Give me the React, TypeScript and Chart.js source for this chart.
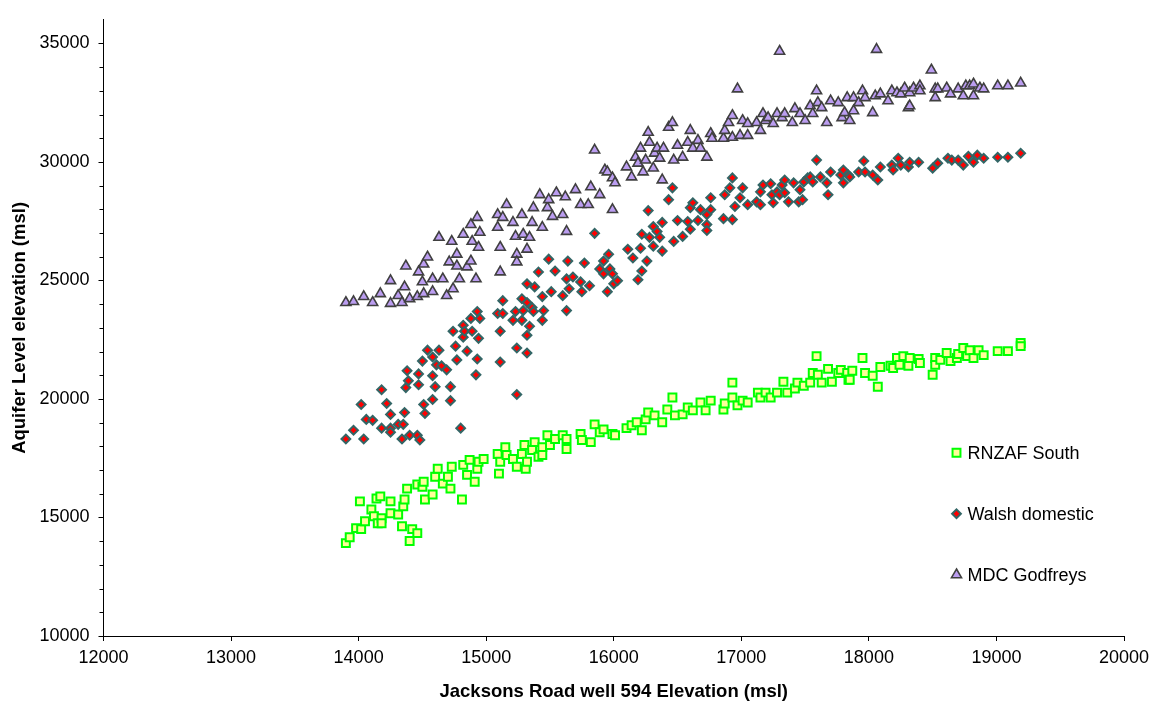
import React, { useEffect, useRef } from 'react';
import { Chart, registerables } from 'chart.js';

Chart.register(...registerables);

// ---------- axis configuration ----------
const X_MIN = 12000;
const X_MAX = 20000;
const Y_MIN = 10000;
const Y_MAX = 36000;
const Y_MINOR = 1000;
const xTickValues = [12000, 13000, 14000, 15000, 16000, 17000, 18000, 19000, 20000];
const yTickValues = [10000, 15000, 20000, 25000, 30000, 35000];

const X_TITLE = 'Jacksons Road well 594 Elevation (msl)';
const Y_TITLE = 'Aquifer Level elevation (msl)';

const seriesNames = ['RNZAF South', 'Walsh domestic', 'MDC Godfreys'];

// ---------- data: [Jacksons Road well 594 elevation, aquifer level elevation] ----------
const rnzafSouth: [number, number][] = [
  [13900, 13920], [13930, 14170], [13980, 14550], [14010, 15680], [14020, 14510], [14050, 14840],
  [14100, 15340], [14120, 15050], [14140, 15800], [14150, 14760], [14170, 15890], [14180, 14970],
  [14180, 14760], [14250, 15680], [14250, 15180], [14310, 15130], [14350, 15470], [14360, 15760],
  [14340, 14630], [14420, 14510], [14460, 14340], [14400, 14010], [14380, 16220], [14460, 16390],
  [14500, 16300], [14520, 15760], [14510, 16510], [14580, 15970], [14600, 16720], [14620, 17060],
  [14660, 16430], [14700, 16720], [14720, 16220], [14730, 17140], [14810, 15760], [14820, 17220],
  [14850, 16800], [14870, 17430], [14910, 16510], [14930, 17060], [14940, 17350], [14980, 17470],
  [15090, 17680], [15100, 16850], [15110, 17350], [15150, 17970], [15160, 17640], [15210, 17470],
  [15240, 17140], [15280, 17680], [15310, 17060], [15320, 17350], [15300, 18060], [15360, 17850],
  [15380, 18180], [15410, 17560], [15440, 17640], [15440, 17970], [15480, 18470], [15500, 18060],
  [15540, 18310], [15600, 18470], [15630, 17890], [15630, 18310], [15740, 18520], [15750, 18270],
  [15820, 18180], [15850, 18930], [15890, 18600], [15920, 18720], [15990, 18520], [16010, 18470],
  [16100, 18770], [16140, 18890], [16180, 19020], [16220, 18680], [16250, 19140], [16270, 19430],
  [16320, 19310], [16380, 19020], [16420, 19560], [16460, 20060], [16480, 19310], [16540, 19350],
  [16580, 19640], [16620, 19520], [16680, 19850], [16720, 19520], [16760, 19930], [16860, 19560],
  [16870, 19810], [16930, 20690], [16930, 20060], [16970, 19730], [17010, 19930], [17050, 19850],
  [17130, 20270], [17150, 20060], [17190, 20270], [17230, 20060], [17280, 20270], [17330, 20730],
  [17360, 20270], [17420, 20440], [17440, 20690], [17490, 20560], [17540, 20690], [17560, 21100],
  [17590, 21810], [17600, 21020], [17630, 20690], [17680, 21270], [17710, 20730], [17760, 21100],
  [17780, 21230], [17830, 21100], [17840, 20810], [17850, 20810], [17870, 21190], [17950, 21730],
  [17970, 21100], [18030, 20980], [18070, 20520], [18090, 21350], [18170, 21400], [18190, 21310],
  [18220, 21730], [18240, 21440], [18270, 21810], [18310, 21400], [18320, 21730], [18390, 21690],
  [18400, 21520], [18500, 21020], [18520, 21730], [18520, 21440], [18560, 21650], [18610, 21940],
  [18640, 21600], [18690, 21730], [18700, 21900], [18740, 22150], [18770, 21810], [18790, 22060],
  [18820, 21730], [18860, 22060], [18900, 21850], [19010, 22020], [19090, 22020], [19190, 22360],
  [19190, 22230],
];

const walshDomestic: [number, number][] = [
  [13900, 18310], [13960, 18680], [14020, 19770], [14040, 18310], [14060, 19140], [14110, 19100],
  [14180, 20390], [14180, 18770], [14220, 19810], [14250, 19350], [14250, 18770], [14250, 18600],
  [14310, 18930], [14340, 18310], [14350, 18930], [14360, 19430], [14370, 20480], [14380, 21190],
  [14390, 20770], [14400, 18470], [14460, 18470], [14470, 20600], [14470, 21060], [14480, 18270],
  [14500, 21600], [14510, 19770], [14520, 19390], [14540, 22060], [14580, 19980], [14580, 20980],
  [14580, 21770], [14600, 20520], [14610, 21440], [14630, 22060], [14650, 21400], [14690, 21230],
  [14720, 19930], [14720, 20520], [14740, 22860], [14760, 22230], [14770, 21650], [14800, 18770],
  [14820, 23110], [14820, 22610], [14830, 22860], [14850, 22020], [14880, 23400], [14890, 22860],
  [14920, 21020], [14930, 21690], [14940, 22560], [14930, 23690], [14950, 23400], [15090, 23610],
  [15110, 22860], [15110, 21560], [15130, 24150], [15130, 23610], [15210, 23320], [15230, 23690],
  [15240, 22150], [15240, 20190], [15280, 24230], [15280, 23320], [15290, 23730], [15320, 22690],
  [15320, 21940], [15320, 24860], [15320, 24070], [15340, 23070], [15360, 23860], [15370, 23690],
  [15380, 24730], [15410, 25360], [15440, 23320], [15440, 24320], [15450, 23730], [15490, 25900],
  [15510, 24530], [15540, 25400], [15600, 24360], [15630, 25070], [15630, 23730], [15640, 25820],
  [15650, 24650], [15680, 25150], [15740, 24940], [15750, 24530], [15770, 25740], [15810, 24780],
  [15850, 26990], [15890, 25490], [15920, 25820], [15920, 25280], [15950, 24530], [15960, 26110],
  [15970, 25490], [15990, 25280], [16000, 24860], [16030, 24990], [16110, 26320], [16150, 25950],
  [16190, 25030], [16210, 26360], [16220, 25400], [16220, 26950], [16260, 25820], [16270, 27950],
  [16280, 26820], [16310, 27280], [16310, 26450], [16340, 27070], [16360, 26820], [16380, 27450],
  [16380, 26240], [16430, 28410], [16460, 28910], [16470, 26650], [16500, 27530], [16540, 26860],
  [16580, 27490], [16600, 28070], [16600, 27160], [16620, 28280], [16660, 27530], [16680, 27990],
  [16730, 27780], [16730, 27360], [16730, 27110], [16760, 28490], [16760, 27990], [16860, 27610],
  [16870, 28620], [16910, 28910], [16930, 29330], [16930, 27570], [16950, 28120], [16990, 28490],
  [17010, 28910], [17050, 28200], [17120, 28320], [17150, 28740], [17150, 28200], [17170, 29030],
  [17230, 29080], [17240, 28620], [17250, 28280], [17280, 28740], [17300, 28620], [17320, 29030],
  [17340, 29240], [17340, 28700], [17370, 28320], [17410, 29120], [17450, 28320], [17460, 28830],
  [17480, 28410], [17490, 29160], [17520, 29330], [17540, 29370], [17560, 29160], [17590, 30080],
  [17620, 29370], [17670, 29120], [17680, 28620], [17700, 29580], [17780, 29450], [17800, 29660],
  [17800, 29120], [17840, 29450], [17850, 29370], [17920, 29580], [17960, 30040], [17970, 29580],
  [18030, 29450], [18070, 29240], [18090, 29790], [18180, 29870], [18190, 29660], [18230, 30160],
  [18250, 29870], [18310, 29790], [18320, 29990], [18390, 29990], [18500, 29740], [18540, 29950],
  [18620, 30160], [18650, 30080], [18700, 30080], [18740, 29870], [18780, 30240], [18820, 29990],
  [18850, 30290], [18900, 30160], [19010, 30200], [19090, 30200], [19190, 30370],
];

const mdcGodfreys: [number, number][] = [
  [13900, 24070], [13960, 24110], [14040, 24320], [14110, 24070], [14170, 24440], [14250, 24990],
  [14250, 24030], [14310, 24360], [14340, 24070], [14360, 24730], [14370, 25610], [14400, 24230],
  [14460, 24320], [14470, 25360], [14500, 24940], [14510, 25690], [14510, 24440], [14540, 25990],
  [14580, 24530], [14580, 25070], [14630, 26820], [14660, 25070], [14690, 24360], [14710, 25780],
  [14730, 26650], [14740, 24650], [14770, 26110], [14770, 25610], [14790, 25070], [14820, 26950],
  [14850, 25570], [14880, 27360], [14880, 25820], [14890, 26650], [14920, 25070], [14930, 27660],
  [14940, 26400], [14950, 27030], [15090, 27240], [15090, 27780], [15110, 26400], [15110, 25360],
  [15130, 27660], [15160, 28200], [15210, 27450], [15230, 26860], [15240, 26110], [15240, 25780],
  [15280, 27780], [15290, 26950], [15320, 26320], [15340, 26820], [15360, 27450], [15370, 28070],
  [15440, 27240], [15480, 28070], [15520, 27700], [15600, 27780], [15630, 27070], [15740, 28200],
  [15800, 28200], [15420, 28620], [15490, 28410], [15550, 28700], [15620, 28530], [15700, 28830],
  [15820, 28950], [15850, 30500], [15890, 28620], [15930, 29660], [15950, 29580], [15990, 29330],
  [15990, 27990], [16010, 29120], [16100, 29790], [16140, 29370], [16170, 30200], [16190, 29950],
  [16210, 30580], [16230, 29580], [16250, 30080], [16270, 31250], [16280, 30830], [16310, 29740],
  [16320, 30370], [16340, 30580], [16360, 30160], [16380, 29240], [16390, 30580], [16430, 31460],
  [16460, 31660], [16470, 30080], [16500, 30700], [16540, 30200], [16580, 30830], [16600, 31330],
  [16620, 30580], [16660, 30910], [16680, 30580], [16730, 30200], [16760, 31200], [16770, 31000],
  [16860, 31000], [16870, 31330], [16900, 31660], [16930, 31960], [16930, 31040], [16970, 33080],
  [16990, 31120], [17010, 31750], [17050, 31120], [17050, 31620], [17120, 31660], [17150, 31330],
  [17170, 32040], [17190, 31750], [17210, 31870], [17250, 31620], [17280, 32040], [17300, 34670],
  [17320, 31870], [17340, 32040], [17400, 31660], [17420, 32250], [17460, 32040], [17500, 31750],
  [17540, 32370], [17560, 32040], [17590, 33000], [17600, 32500], [17630, 32290], [17670, 31660],
  [17700, 32580], [17760, 32500], [17790, 31870], [17810, 32080], [17830, 32710], [17850, 31750],
  [17880, 32710], [17880, 32160], [17920, 32500], [17950, 33000], [17970, 32710], [18030, 32080],
  [18050, 32790], [18060, 34750], [18090, 32870], [18150, 32580], [18180, 33000], [18220, 32920],
  [18250, 32870], [18280, 33120], [18310, 32290], [18320, 32370], [18320, 32920], [18350, 33120],
  [18400, 33210], [18400, 33000], [18490, 33880], [18520, 33080], [18520, 32710], [18540, 33080],
  [18610, 33120], [18640, 32870], [18700, 33080], [18740, 32790], [18760, 33210], [18790, 33210],
  [18820, 33290], [18820, 32790], [18870, 33120], [18900, 33080], [19010, 33210], [19090, 33210],
  [19190, 33330],
];

// ---------- styles ----------
const FONT = "'Liberation Sans', Arial, Helvetica, sans-serif";
const styles = [
  { pointStyle: 'rect', radius: 5.6, fill: '#FFFF99', stroke: '#00FF00', bw: 2 },
  { pointStyle: 'rectRot', radius: 4.4, fill: '#FF0000', stroke: '#336666', bw: 2 },
  { pointStyle: 'triangle', radius: 5.8, fill: '#BB9DF0', stroke: '#404040', bw: 1.6 },
];

function drawMarker(ctx: CanvasRenderingContext2D, idx: number, x: number, y: number) {
  const s = styles[idx];
  const r = s.radius;
  ctx.save();
  ctx.beginPath();
  if (s.pointStyle === 'rect') {
    const h = Math.SQRT1_2 * r;
    ctx.rect(x - h, y - h, 2 * h, 2 * h);
  } else if (s.pointStyle === 'rectRot') {
    ctx.moveTo(x, y - r);
    ctx.lineTo(x + r, y);
    ctx.lineTo(x, y + r);
    ctx.lineTo(x - r, y);
    ctx.closePath();
  } else {
    ctx.moveTo(x, y - r);
    ctx.lineTo(x + r * Math.sin(Math.PI / 3), y + r / 2);
    ctx.lineTo(x - r * Math.sin(Math.PI / 3), y + r / 2);
    ctx.closePath();
  }
  ctx.fillStyle = s.fill;
  ctx.fill();
  ctx.lineWidth = s.bw;
  ctx.strokeStyle = s.stroke;
  ctx.stroke();
  ctx.restore();
}

const minorTicksPlugin = {
  id: 'minorTicks',
  afterDraw(chart: any) {
    const ctx = chart.ctx as CanvasRenderingContext2D;
    const yScale = chart.scales.y;
    const left = chart.chartArea.left;
    ctx.save();
    ctx.strokeStyle = '#000';
    ctx.lineWidth = 1;
    for (let v = Y_MIN + Y_MINOR; v < Y_MAX; v += Y_MINOR) {
      if (yTickValues.includes(v)) continue;
      const py = Math.round(yScale.getPixelForValue(v)) + 0.5;
      ctx.beginPath();
      ctx.moveTo(left - 4, py);
      ctx.lineTo(left, py);
      ctx.stroke();
    }
    ctx.restore();
  },
};

const legendPlugin = {
  id: 'insideLegend',
  afterDraw(chart: any) {
    const ctx = chart.ctx as CanvasRenderingContext2D;
    const ca = chart.chartArea;
    const mx = ca.left + 853;
    const tx = ca.left + 864;
    const ys = [ca.top + 433, ca.top + 494, ca.top + 555];
    ctx.save();
    ctx.font = `18px ${FONT}`;
    ctx.fillStyle = '#000';
    ctx.textAlign = 'left';
    ctx.textBaseline = 'middle';
    seriesNames.forEach((name, i) => {
      drawMarker(ctx, i, mx, ys[i]);
      ctx.fillText(name, tx, ys[i] + 1);
    });
    ctx.restore();
  },
};

export default function App() {
  const canvasRef = useRef<HTMLCanvasElement | null>(null);

  useEffect(() => {
    document.body.style.margin = '0';
    const canvas = canvasRef.current;
    if (!canvas) return;
    const seriesData = [rnzafSouth, walshDomestic, mdcGodfreys];
    const chart = new Chart(canvas, {
      type: 'scatter',
      data: {
        datasets: seriesData.map((pts, i) => ({
          label: seriesNames[i],
          data: pts.map(([x, y]) => ({ x, y })),
          pointStyle: styles[i].pointStyle as any,
          pointRadius: styles[i].radius,
          pointHoverRadius: styles[i].radius,
          backgroundColor: styles[i].fill,
          borderColor: styles[i].stroke,
          pointBorderWidth: styles[i].bw,
          borderWidth: styles[i].bw,
          showLine: false,
        })),
      },
      options: {
        responsive: false,
        animation: false,
        devicePixelRatio: 1,
        layout: { padding: { left: 0, top: 12, right: 33, bottom: 0 } },
        plugins: {
          legend: { display: false },
          tooltip: { enabled: false },
          title: { display: false },
        },
        scales: {
          x: {
            type: 'linear',
            min: X_MIN,
            max: X_MAX,
            afterFit: (scale: any) => { scale.height = 70; },
            afterBuildTicks: (scale: any) => {
              scale.ticks = xTickValues.map((value) => ({ value }));
            },
            ticks: {
              color: '#000',
              font: { family: FONT, size: 18 },
              padding: 6,
              maxRotation: 0,
              autoSkip: false,
              callback: (v: any) => String(v),
            },
            grid: { drawOnChartArea: false, drawTicks: true, tickLength: 5, color: '#000' },
            border: { display: true, color: '#000', width: 1 },
            title: {
              display: true,
              text: X_TITLE,
              color: '#000',
              font: { family: FONT, size: 18.5, weight: 'bold' },
              padding: { top: 0, bottom: 3 },
            },
          },
          y: {
            type: 'linear',
            min: Y_MIN,
            max: Y_MAX,
            afterFit: (scale: any) => { scale.width = 103.5; },
            afterBuildTicks: (scale: any) => {
              scale.ticks = yTickValues.map((value) => ({ value }));
            },
            ticks: {
              color: '#000',
              font: { family: FONT, size: 18 },
              padding: 9,
              autoSkip: false,
              callback: (v: any) => String(v),
            },
            grid: { drawOnChartArea: false, drawTicks: true, tickLength: 5, color: '#000' },
            border: { display: true, color: '#000', width: 1 },
            title: {
              display: true,
              text: Y_TITLE,
              color: '#000',
              font: { family: FONT, size: 18.5, weight: 'bold' },
              padding: { top: 9, bottom: 0 },
            },
          },
        },
      },
      plugins: [minorTicksPlugin, legendPlugin],
    });
    return () => chart.destroy();
  }, []);

  return (
    <div style={{ width: 1157, height: 706, background: '#fff' }}>
      <canvas ref={canvasRef} width={1157} height={706} style={{ display: 'block' }} />
    </div>
  );
}
